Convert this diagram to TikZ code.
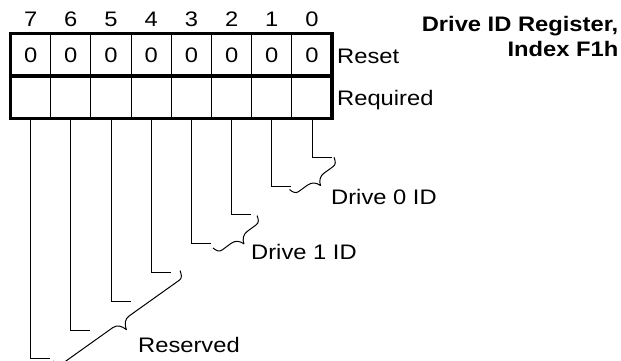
\documentclass[tikz,border=0pt]{standalone}
\usepackage{fontspec}
\setmainfont{Liberation Sans}[FakeStretch=1.13]
\usetikzlibrary{calc}
\tikzset{
  regborder/.style={line width=3.5pt},
  cellline/.style={line width=1pt},
  leadline/.style={line width=1pt},
  bracel/.style={line width=1pt, line join=round},
  txt/.style={inner sep=0pt, font=\fontsize{21}{25}\selectfont},
  ttl/.style={inner sep=0pt, align=right, font=\bfseries\fontsize{21}{25}\selectfont},
}
% #1 upper end, #2 lower end, #3 line offset, #4 tip offset, #5 control offset near tip
\newcommand\drbrace[5]{%
  \draw[bracel]
    (#1) .. controls ($(#1)!1pt!(#2)!4pt!90:(#2)$) and ($(#1)!2.5pt!(#2)!#3!90:(#2)$)
      .. ($(#1)!6pt!(#2)!#3!90:(#2)$)
    -- ($(#1)!0.5!(#2)!-10pt!(#2)!#3!90:(#2)$)
    .. controls ($(#1)!0.5!(#2)!-5pt!(#2)!#3!90:(#2)$) and ($(#1)!0.5!(#2)!-1.5pt!(#2)!#5!90:(#2)$)
      .. ($(#1)!0.5!(#2)!#4!90:(#2)$)
    .. controls ($(#1)!0.5!(#2)!1.5pt!(#2)!#5!90:(#2)$) and ($(#1)!0.5!(#2)!5pt!(#2)!#3!90:(#2)$)
      .. ($(#1)!0.5!(#2)!10pt!(#2)!#3!90:(#2)$)
    -- ($(#2)!6pt!(#1)!#3!-90:(#1)$)
    .. controls ($(#2)!2.5pt!(#1)!#3!-90:(#1)$) and ($(#2)!1pt!(#1)!4pt!-90:(#1)$)
      .. (#2);}
\begin{document}
\begin{tikzpicture}[x=1pt,y=-1pt]
\useasboundingbox (0,0) rectangle (621,360);
\begin{scope}
\clip (0,0) rectangle (621,360);
% register box
\coordinate (boxtl) at (10.5,33.5);
\coordinate (boxbr) at (332.1,118.5);
\foreach \i in {1,...,7} {
  \draw[cellline] ({10.5+40.2*\i},33.5) -- ({10.5+40.2*\i},118.5);
}
\draw[regborder] (10.5,76) -- (332.1,76);
\draw[regborder] (boxtl) rectangle (boxbr);
% bit numbers, reset values, leaders
\foreach \k in {0,...,7} {
  \pgfmathsetmacro\cx{10.5+40.2*(7-\k)+20.1}
  \pgfmathsetmacro\ly{157.3+28.8*\k}
  \node[txt, anchor=base] (bit\k) at (\cx,26) {\k};
  \node[txt, anchor=base] (rst\k) at (\cx,62.5) {0};
  \coordinate (top\k) at (\cx,118.5);
  \coordinate (end\k) at ({\cx+19.5},\ly);
  \draw[leadline] (top\k) |- (end\k);
}
\node[txt, anchor=base west] (reset) at (337,63) {Reset};
\node[txt, anchor=base west] (required) at (337,105) {Required};
\node[ttl, anchor=north east] (title) at (618.5,16) {Drive ID Register,\\Index F1h};
% braces
\coordinate (d0a) at (334,157.3);
\coordinate (d0b) at (289.5,189.5);
\coordinate (d1a) at (257,215.5);
\coordinate (d1b) at (213,248);
\coordinate (rsa) at (180,270.5);
\coordinate (rsb) at (53,361);
\drbrace{d0a}{d0b}{7pt}{15pt}{10.2pt}
\drbrace{d1a}{d1b}{7pt}{15pt}{10.2pt}
\drbrace{rsa}{rsb}{7.5pt}{17pt}{11.3pt}
\node[txt, anchor=base west] (drv0) at (331,204.5) {Drive 0 ID};
\node[txt, anchor=base west] (drv1) at (251,259.3) {Drive 1 ID};
\node[txt, anchor=base west] (resv) at (138,352.3) {Reserved};
\end{scope}
\end{tikzpicture}
\end{document}
